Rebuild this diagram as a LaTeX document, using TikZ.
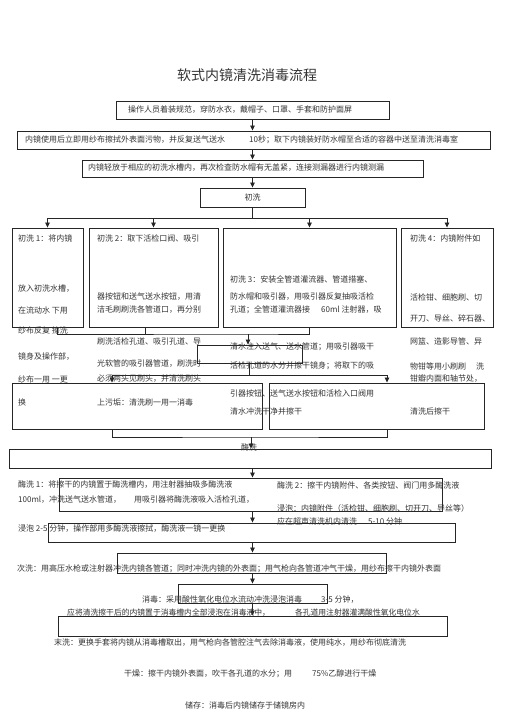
\documentclass[tikz,border=0pt]{standalone}
\usepackage{fontspec}
\setmainfont{Noto Sans CJK SC}
\usetikzlibrary{arrows.meta,fit}

\tikzset{
  box/.style={draw=black!85, line width=0.9pt, inner sep=0pt},
  txt/.style={anchor=west, inner sep=0pt, text=black!80, font=\fontsize{8}{9}\selectfont},
  ln/.style={draw=black!85, line width=0.8pt},
  arr/.style={ln, -{Triangle[length=5pt,width=4.5pt]}}
}

\begin{document}
\begin{tikzpicture}[x=1pt,y=-1pt]
\useasboundingbox (0,0) rectangle (505,714);
\node [font=\fontsize{14}{16}\selectfont, text=black!80] (title) at (247,75) {软式内镜清洗消毒流程};
\coordinate (spine) at (252.5,0);
% boxes
\node [box, fit={(116,101) (389,119)}] (b1) {};
\node [box, fit={(17,131) (490,149)}] (b2) {};
\node [box, fit={(82,160) (423,177)}] (b3) {};
\node [box, fit={(200,188) (305,207)}] (b4) {};
\node [box, fit={(12,228) (83,327)}] (c1) {};
\node [box, fit={(89,228) (218,327)}] (c2) {};
\node [box, fit={(223,228) (396,327)}] (c3) {};
\node [box, fit={(401,228) (493,327)}] (c4) {};
\node [box, fit={(197,345) (302,363)}] (d1) {};
\node [box, fit={(12,383) (262,429)}] (e1) {};
\node [box, fit={(269,383) (484,429)}] (e2) {};
\node [box, fit={(9,449) (491,468)}] (f1) {};
\node [box, fit={(59,478) (442,511)}] (g1) {};
\node [box, fit={(48,523) (455,542)}] (h1) {};
\node [box, fit={(117,553) (386,573)}] (i1) {};
\node [box, fit={(178,584) (327,603)}] (j1) {};
\node [box, fit={(58,616) (447,636)}] (k1) {};
% main line
\foreach \u/\v in {b1/b2,b2/b3,b3/b4,f1/g1,g1/h1,h1/i1,i1/j1,j1/k1}
  \draw [arr] (spine |- \u.south) -- (spine |- \v.north);
% split to the four first washes
\coordinate (split) at (252.5,218);
\draw [ln] (spine |- b4.south) -- (split);
\draw [ln] (c1.north |- split) -- (c4.north |- split);
\foreach \c in {c1,c2,c3,c4}
  \draw [arr] (\c.north |- split) -- (\c.north);
% joins
\coordinate (join1) at (248,334);
\draw [ln] ([xshift=9.5]c1.south) |- (join1) -| (c3.south);
\draw [ln] ([xshift=-8.5]c2.south) -- ([xshift=-8.5]c2.south |- join1);
\draw [arr] (join1) -- (join1 |- d1.north);
\coordinate (join2) at (249,375);
\coordinate (drop1) at (112,375);
\coordinate (drop2) at (387,375);
\draw [ln] (join2 |- d1.south) -- (join2);
\draw [arr] (join2) -- (drop1) -- (drop1 |- e1.north);
\draw [arr] (join2) -- (drop2) -- (drop2 |- e2.north);
\coordinate (join3) at (251,437);
\draw [ln] (drop1 |- e1.south) |- (join3) -| (drop2 |- e2.south);
\draw [arr] (join3) -- (join3 |- f1.north);
% texts on top
\node [txt] (t1) at (128,110) {操作人员着装规范，穿防水衣，戴帽子、口罩、手套和防护面屏};
\node [txt] (t2) at (25,140) {内镜使用后立即用纱布擦拭外表面污物，并反复送气送水\hspace{24pt}10秒；取下内镜装好防水帽至合适的容器中送至清洗消毒室};
\node [txt] (t3) at (88,168) {内镜轻放于相应的初洗水槽内，再次检查防水帽有无盖紧，连接测漏器进行内镜测漏};
\node [txt, anchor=center] (t4) at (spine |- b4) {初洗};
% first wash 1
\node [txt] (c1a) at (18,238) {初洗 1：将内镜};
\node [txt] (c1b) at (18,289) {放入初洗水槽，};
\node [txt] (c1c) at (18,310) {在流动水 下用};
\node [txt] (c1d) at (18,330) {纱布反复 擦洗};
\node [txt] (c1e) at (18,357) {镜身及操作部，};
\node [txt] (c1f) at (18,379) {纱布一用 一更};
\node [txt] (c1g) at (18,402) {换};
% first wash 2
\node [txt] (c2a) at (97,238) {初洗 2：取下活检口阀、吸引};
\node [txt] (c2b) at (97,297) {器按钮和送气送水按钮，用清};
\node [txt] (c2c) at (97,310) {洁毛刷刷洗各管道口，再分别};
\node [txt] (c2d) at (97,341) {刷洗活检孔道、吸引孔道、导};
\node [txt] (c2e) at (97,364) {光软管的吸引器管道，刷洗时};
\node [txt] (c2f) at (97,379) {必须两头见刷头，并清洗刷头};
\node [txt] (c2g) at (97,402) {上污垢：清洗刷一用一消毒};
% first wash 3
\node [txt] (c3a) at (230,279) {初洗 3：安装全管道灌流器、管道措塞、};
\node [txt] (c3b) at (230,297) {防水帽和吸引器，用吸引器反复抽吸活检};
\node [txt] (c3c) at (230,310) {孔道；全管道灌流器接\hspace{11pt}60ml 注射器，吸};
\node [txt] (c3d) at (230,347) {清水注入送气、送水管道；用吸引器吸干};
\node [txt] (c3e) at (230,366) {活检孔道的水分并擦干镜身；将取下的吸};
\node [txt] (c3f) at (230,393) {引器按钮、送气送水按钮和活检入口阀用};
\node [txt] (c3g) at (230,411) {清水冲洗干净并擦干};
% first wash 4
\node [txt] (c4a) at (410,238) {初洗 4：内镜附件如};
\node [txt] (c4b) at (410,297) {活检钳、细胞刷、切};
\node [txt] (c4c) at (410,318) {开刀、导丝、碎石器、};
\node [txt] (c4d) at (410,341) {网篮、造影导管、异};
\node [txt] (c4e) at (410,366) {物钳等用小刷刷\hspace{10pt}洗};
\node [txt] (c4f) at (410,379) {钳瓣内面和轴节处，};
\node [txt] (c4g) at (410,411) {清洗后擦干};
% enzyme wash
\node [txt, anchor=center] (lbl) at (249,447) {酶洗};
\node [txt] (g1a) at (18,485) {酶洗 1：将擦干的内镜置于酶洗槽内，用注射器抽吸多酶洗液};
\node [txt] (g1b) at (18,500) {100ml，冲洗送气送水管道，\hspace{13pt}用吸引器将酶洗液吸入活检孔道，};
\node [txt] (g1c) at (277,485) {酶洗 2：擦干内镜附件、各类按钮、阀门用多酶洗液};
\node [txt] (g1d) at (277,508) {浸泡：内镜附件（活检钳、细胞刷、切开刀、导丝等）};
\node [txt] (g1e) at (277,521) {应在超声清洗机内清洗\hspace{11pt}5-10 分钟};
\node [txt] (g1f) at (18,529) {浸泡 2-5 分钟，操作部用多酶洗液擦拭，酶洗液一镜一更换};
% rinse, disinfect, final
\node [txt] (i1a) at (17,569) {次洗：用高压水枪或注射器冲洗内镜各管道；同时冲洗内镜的外表面；用气枪向各管道冲气干燥，用纱布擦干内镜外表面};
\node [txt] (j1a) at (142,600) {消毒：采用酸性氧化电位水流动冲洗浸泡消毒\hspace{19pt}3-5 分钟，};
\node [txt, font=\fontsize{7.8}{9}\selectfont] (j1b) at (67,613) {应将清洗擦干后的内镜置于消毒槽内全部浸泡在消毒液中，\hspace{25pt}各孔道用注射器灌满酸性氧化电位水};
\node [txt] (k1a) at (54,643) {末洗：更换手套将内镜从消毒槽取出，用气枪向各管腔注气去除消毒液，使用纯水，用纱布彻底清洗};
\node [txt] (dry) at (124,674) {干燥：擦干内镜外表面，吹干各孔道的水分；用\hspace{20pt}75\%乙醇进行干燥};
\node [txt] (store) at (185,705) {储存：消毒后内镜储存于储镜房内};
\end{tikzpicture}
\end{document}
